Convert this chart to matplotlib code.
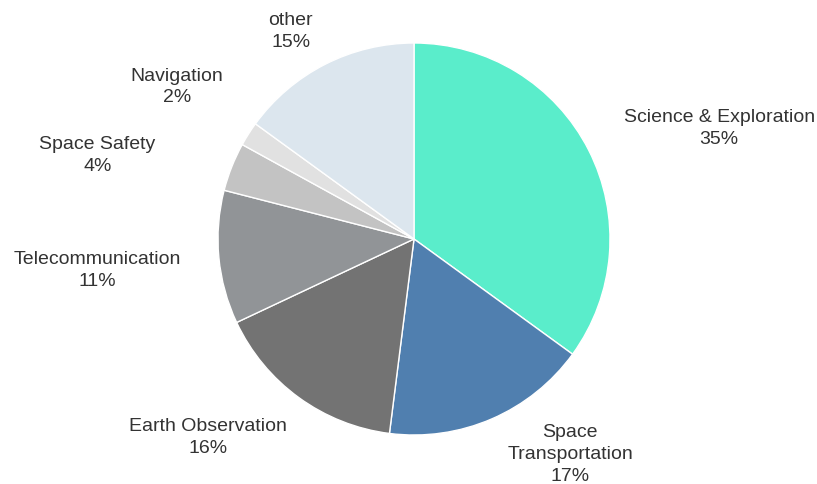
import matplotlib
matplotlib.use("Agg")
import matplotlib.pyplot as plt

# budget share by domain, drawn clockwise from 12 o'clock
domains = ["Science & Exploration", "Space\nTransportation", "Earth Observation",
           "Telecommunication", "Space Safety", "Navigation", "other"]
shares = [35, 17, 16, 11, 4, 2, 15]
colours = ["#5AEDCB", "#507FAF", "#737373", "#919497", "#C3C3C3", "#E1E1E1", "#DCE6EE"]

plt.rcParams["font.family"] = ["Liberation Sans", "DejaVu Sans"]

fig = plt.figure(figsize=(8.17, 4.85), dpi=100)
ax = fig.add_axes([0, 0, 1, 1])

labels = [f"{d}\n{s}%" for d, s in zip(domains, shares)]
wedges, texts = ax.pie(shares, labels=labels, colors=colours, startangle=90,
                       counterclock=False, labeldistance=1.2,
                       wedgeprops=dict(edgecolor="white", linewidth=1),
                       textprops=dict(fontsize=14, color="#333333", linespacing=1.38))

# 1 data unit = pie radius in pixels
r_px = 196.0

# pixel shifts for labels (mostly to spread the small slices apart)
shift = {
    "Science & Exploration": (0, 5),
    "Space\nTransportation": (0, 1),
    "Earth Observation": (11, -7),
    "Telecommunication": (1, -8),
    "Space Safety": (-40, -2),
    "Navigation": (8, 27),
    "other": (6, -1),
}
for t, d in zip(texts, domains):
    t.set_multialignment("center")
    dx, dy = shift.get(d, (0, 0))
    x, y = t.get_position()
    t.set_position((x + dx / r_px, y + dy / r_px))

# pie centre sits at (414, 240) px from top-left
ax.set_xlim(-414 / r_px, (817 - 414) / r_px)
ax.set_ylim(-(485 - 240) / r_px, 240 / r_px)
ax.set_aspect("equal", adjustable="box")
ax.axis("off")

fig.savefig("out.png", dpi=100, facecolor="white")
